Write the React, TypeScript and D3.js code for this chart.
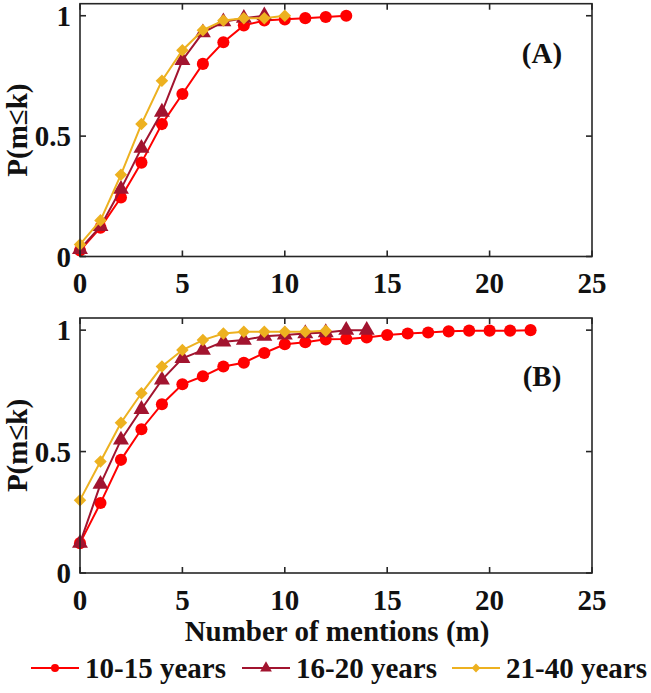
import React, { useEffect, useRef } from "react";
import * as d3 from "d3";

// mentions k on the x axis
const xTicks = [0, 5, 10, 15, 20, 25];
const yTicks = [0, 0.5, 1];

// panel (A)
const topTeen = [0.025, 0.12, 0.245, 0.39, 0.55, 0.675, 0.8, 0.89, 0.96, 0.98, 0.985, 0.99, 0.995, 1.0];
const topYoung = [0.03, 0.125, 0.28, 0.45, 0.6, 0.815, 0.93, 0.975, 0.99, 1.0];
const topAdult = [0.05, 0.15, 0.34, 0.55, 0.73, 0.857, 0.94, 0.98, 0.99, 0.99, 1.0];

// panel (B)
const bottomTeen = [
  0.123, 0.288, 0.466, 0.592, 0.695, 0.777, 0.81, 0.85, 0.866, 0.906, 0.942, 0.95, 0.962,
  0.964, 0.97, 0.98, 0.986, 0.99, 0.995, 0.998, 0.998, 0.998, 1.0,
];
const bottomYoung = [0.123, 0.366, 0.548, 0.674, 0.795, 0.884, 0.918, 0.952, 0.959, 0.975, 0.98, 0.986, 0.99, 1.0, 1.0];
const bottomAdult = [0.3, 0.459, 0.619, 0.74, 0.85, 0.918, 0.959, 0.986, 0.993, 0.993, 0.993, 0.993, 0.997];

const seriesNames = ["10-15 years", "16-20 years", "21-40 years"];
const colors = ["#ff0000", "#a2142f", "#edb120"];
const symbols = [d3.symbolCircle, d3.symbolTriangle, d3.symbolDiamond2];
const markerSizes = [115, 110, 100];

const FONT = "'Liberation Serif', 'Times New Roman', serif";

export default function App() {
  const svgRef = useRef<SVGSVGElement | null>(null);

  useEffect(() => {
    const width = 651;
    const height = 693;
    const svg = d3.select(svgRef.current).attr("width", width).attr("height", height);
    svg.selectAll("*").remove();

    const xScale = d3.scaleLinear().domain([0, 25]).range([80, 592]);

    const panels = [
      { label: "(A)", top: 3.7, bottom: 256.5, labelY: 63, data: [topTeen, topYoung, topAdult] },
      { label: "(B)", top: 318, bottom: 573, labelY: 386, data: [bottomTeen, bottomYoung, bottomAdult] },
    ];

    const addText = (sel: any, size = 29) =>
      sel
        .attr("font-family", FONT)
        .attr("font-weight", "bold")
        .attr("font-size", size)
        .attr("fill", "#111");

    panels.forEach((p) => {
      const yScale = d3.scaleLinear().domain([0, 1.05]).range([p.bottom, p.top]);
      const g = svg.append("g");

      // series lines + markers
      p.data.forEach((vals, i) => {
        const pts = vals.map((v, k) => ({ x: k, y: v }));
        const line = d3
          .line<{ x: number; y: number }>()
          .x((d) => xScale(d.x))
          .y((d) => yScale(d.y));
        g.append("path")
          .datum(pts)
          .attr("d", line)
          .attr("fill", "none")
          .attr("stroke", colors[i])
          .attr("stroke-width", 2);
        const sym = d3.symbol().type(symbols[i]).size(markerSizes[i]);
        g.selectAll(`.m${i}`)
          .data(pts)
          .enter()
          .append("path")
          .attr("d", sym)
          .attr("transform", (d) => `translate(${xScale(d.x)},${yScale(d.y)})`)
          .attr("fill", colors[i]);
      });

      // box with inward ticks
      const axisColor = "#262626";
      g.append("rect")
        .attr("x", xScale(0))
        .attr("y", p.top)
        .attr("width", xScale(25) - xScale(0))
        .attr("height", p.bottom - p.top)
        .attr("fill", "none")
        .attr("stroke", axisColor)
        .attr("stroke-width", 1.6);

      xTicks.forEach((t) => {
        const x = xScale(t);
        g.append("line").attr("x1", x).attr("x2", x).attr("y1", p.bottom).attr("y2", p.bottom - 6)
          .attr("stroke", axisColor).attr("stroke-width", 1.6);
        g.append("line").attr("x1", x).attr("x2", x).attr("y1", p.top).attr("y2", p.top + 6)
          .attr("stroke", axisColor).attr("stroke-width", 1.6);
        addText(g.append("text"))
          .attr("x", x)
          .attr("y", p.bottom + 36.5)
          .attr("text-anchor", "middle")
          .text(t);
      });

      yTicks.forEach((t) => {
        const y = yScale(t);
        g.append("line").attr("x1", xScale(0)).attr("x2", xScale(0) + 6).attr("y1", y).attr("y2", y)
          .attr("stroke", axisColor).attr("stroke-width", 1.6);
        g.append("line").attr("x1", xScale(25)).attr("x2", xScale(25) - 6).attr("y1", y).attr("y2", y)
          .attr("stroke", axisColor).attr("stroke-width", 1.6);
        addText(g.append("text"))
          .attr("x", 71)
          .attr("y", y + 10)
          .attr("text-anchor", "end")
          .text(t);
      });

      const midY = (p.top + p.bottom) / 2;
      addText(g.append("text"))
        .attr("transform", `translate(27,${midY}) rotate(-90)`)
        .attr("text-anchor", "middle")
        .text("P(m≤k)");

      addText(g.append("text"))
        .attr("x", 542)
        .attr("y", p.labelY)
        .attr("text-anchor", "middle")
        .text(p.label);
    });

    addText(svg.append("text"))
      .attr("x", 337)
      .attr("y", 641)
      .attr("text-anchor", "middle")
      .text("Number of mentions (m)");

    // legend
    const legendX = [31, 242, 452];
    const legendY = 668;
    seriesNames.forEach((name, i) => {
      const lg = svg.append("g").attr("transform", `translate(${legendX[i]},${legendY})`);
      lg.append("line").attr("x1", 0).attr("x2", 48).attr("y1", 0).attr("y2", 0)
        .attr("stroke", colors[i]).attr("stroke-width", 2);
      lg.append("path")
        .attr("d", d3.symbol().type(symbols[i]).size(i === 1 ? 60 : 50)())
        .attr("transform", "translate(24,0)")
        .attr("fill", colors[i]);
      addText(lg.append("text"))
        .attr("x", 54)
        .attr("y", 10)
        .text(name);
    });
  }, []);

  return (
    <div style={{ position: "absolute", left: 0, top: 0 }}>
      <svg ref={svgRef} style={{ display: "block" }}></svg>
    </div>
  );
}
